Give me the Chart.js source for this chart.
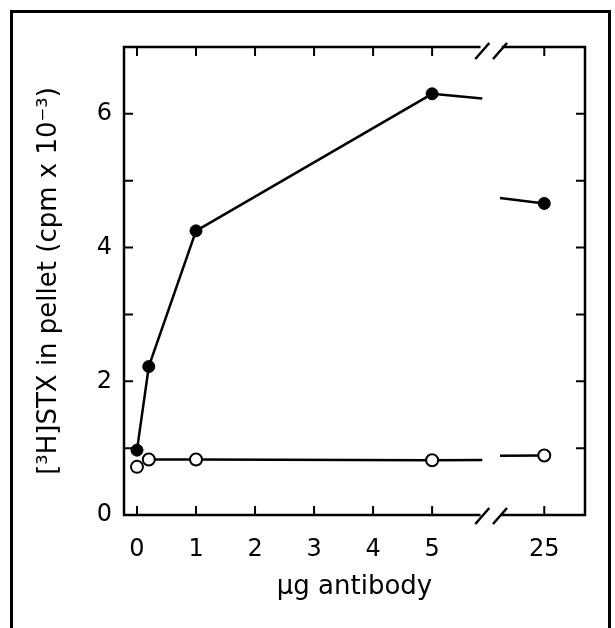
<!DOCTYPE html>
<html>
<head>
<meta charset="utf-8">
<script src="https://cdn.jsdelivr.net/npm/chart.js@4.4.1/dist/chart.umd.min.js"></script>
<style>
    html, body { margin: 0; padding: 0; background: #fff; overflow: hidden; }
    #wrap { position: relative; width: 615px; height: 628px; }
    #border { position: absolute; left: 10px; top: 10px; width: 595px; height: 640px;
              border: 3px solid #000; border-bottom: none; pointer-events: none; }
</style>
</head>
<body>
<div id="wrap">
    <canvas id="stxChart" width="615" height="628"></canvas>
    <div id="border"></div>
</div>
<script>
// Data
const doses = [0, 0.2, 1, 5, 25];                    // µg antibody
const boundCounts = [0.97, 2.22, 4.25, 6.30, 4.66];  // filled circles
const controlCounts = [0.72, 0.83, 0.83, 0.82, 0.89]; // open circles
const xTickValues = [0, 1, 2, 3, 4, 5, 25];
const yTickValues = [0, 2, 4, 6];

// Broken x axis: 0-5 linear, then a gap, then 25
const BREAK_LO = 5.85;   // dose where the left part stops
const BREAK_HI = 24;     // dose where the right part starts
const HIGH_POS = 6.9;    // axis position of dose 25
const HIGH_SCALE = 0.75;
const TICK = 9;

function axisPos(dose) {
    if (dose <= BREAK_LO) return dose;
    return HIGH_POS + (dose - 25) * HIGH_SCALE;
}

// Builds the points of one series; the segment crossing the break is cut
// into two short stubs, and points before linkFrom are left unconnected
function buildSeries(values, linkFrom) {
    const pts = [];
    for (let i = 0; i < doses.length; i++) {
        pts.push({ x: axisPos(doses[i]), y: values[i] });
        if (i + 1 >= doses.length) break;
        if (i + 1 <= linkFrom) {
            pts.push({ x: (axisPos(doses[i]) + axisPos(doses[i + 1])) / 2, y: null });
            continue;
        }
        if (doses[i] <= BREAK_LO && doses[i + 1] >= BREAK_HI) {
            const slope = (values[i + 1] - values[i]) / (doses[i + 1] - doses[i]);
            pts.push({ x: axisPos(BREAK_LO), y: values[i] + slope * (BREAK_LO - doses[i]), stub: true });
            pts.push({ x: (axisPos(BREAK_LO) + axisPos(BREAK_HI)) / 2, y: null });
            pts.push({ x: axisPos(BREAK_HI), y: values[i] + slope * (BREAK_HI - doses[i]), stub: true });
        }
    }
    return pts;
}

const markerRadius = ctx => (ctx.raw && ctx.raw.stub ? 0 : 6);

// Frame with inward ticks and the // break marks
const framePlugin = {
    id: 'frame',
    afterDatasetsDraw(chart) {
        const { ctx, chartArea: a, scales: { x, y } } = chart;
        const g0 = x.getPixelForValue(axisPos(BREAK_LO));
        const g1 = x.getPixelForValue(axisPos(BREAK_HI));
        ctx.save();
        ctx.strokeStyle = '#000';
        ctx.lineCap = 'square';
        ctx.lineWidth = 2.5;
        ctx.beginPath();
        ctx.moveTo(a.left, a.top); ctx.lineTo(a.left, a.bottom);
        ctx.moveTo(a.right, a.top); ctx.lineTo(a.right, a.bottom);
        [a.top, a.bottom].forEach(py => {
            ctx.moveTo(a.left, py); ctx.lineTo(g0 - 3, py);
            ctx.moveTo(g1 + 3, py); ctx.lineTo(a.right, py);
        });
        ctx.stroke();

        ctx.lineWidth = 2;
        ctx.lineCap = 'butt';
        ctx.beginPath();
        x.ticks.forEach(t => {
            const px = x.getPixelForValue(t.value);
            ctx.moveTo(px, a.bottom); ctx.lineTo(px, a.bottom - TICK);
            ctx.moveTo(px, a.top); ctx.lineTo(px, a.top + TICK);
        });
        y.ticks.forEach(t => {
            if (t.value <= y.min || t.value >= y.max) return;
            const py = y.getPixelForValue(t.value);
            ctx.moveTo(a.left, py); ctx.lineTo(a.left + TICK, py);
            ctx.moveTo(a.right, py); ctx.lineTo(a.right - TICK, py);
        });
        ctx.stroke();

        ctx.lineWidth = 2.5;
        ctx.beginPath();
        [[a.top, 4], [a.bottom, 1]].forEach(([py, off]) => {
            [g0, g1].forEach(px => {
                ctx.moveTo(px - 7, py + off + 8);
                ctx.lineTo(px + 7, py + off - 8);
            });
        });
        ctx.stroke();
        ctx.restore();
    }
};

document.addEventListener('DOMContentLoaded', function() {
    initChart();
});

function initChart() {
    const tickFont = { family: 'DejaVu Sans', size: 24 };
    const titleFont = { family: 'DejaVu Sans', size: 26 };
    const ctx = document.getElementById('stxChart').getContext('2d');
    window.stxChart = new Chart(ctx, {
        type: 'line',
        data: {
            datasets: [
                {
                    label: 'control',
                    data: buildSeries(controlCounts, 1),
                    borderColor: '#000',
                    borderWidth: 2.5,
                    pointBackgroundColor: '#fff',
                    pointBorderColor: '#000',
                    pointBorderWidth: 2,
                    pointRadius: markerRadius,
                    spanGaps: false
                },
                {
                    label: 'antibody',
                    data: buildSeries(boundCounts, 0),
                    borderColor: '#000',
                    borderWidth: 2.5,
                    pointBackgroundColor: '#000',
                    pointBorderColor: '#000',
                    pointBorderWidth: 1,
                    pointRadius: markerRadius,
                    spanGaps: false
                }
            ]
        },
        options: {
            responsive: false,
            animation: false,
            events: [],
            layout: { padding: { top: 47, right: 30, left: 0, bottom: 0 } },
            plugins: { legend: { display: false }, tooltip: { enabled: false } },
            scales: {
                x: {
                    type: 'linear',
                    min: -0.22,
                    max: 7.59,
                    afterFit: scale => { scale.height = 113; },
                    afterBuildTicks: scale => {
                        scale.ticks = xTickValues.map(v => ({ value: axisPos(v) }));
                    },
                    grid: { display: false, drawTicks: false },
                    border: { display: false },
                    ticks: {
                        padding: 20,
                        color: '#000',
                        font: tickFont,
                        maxRotation: 0,
                        callback: (value, i) => String(xTickValues[i])
                    },
                    title: {
                        display: true,
                        text: 'µg antibody',
                        color: '#000',
                        font: titleFont,
                        padding: { top: 0, bottom: 25 }
                    }
                },
                y: {
                    min: 0,
                    max: 7,
                    afterFit: scale => { scale.width = 124; },
                    grid: { display: false, drawTicks: false },
                    border: { display: false },
                    ticks: {
                        stepSize: 1,
                        padding: 12,
                        color: '#000',
                        font: tickFont,
                        callback: value => (yTickValues.includes(value) ? String(value) : '')
                    },
                    title: {
                        display: true,
                        text: '[³H]STX in pellet (cpm x 10⁻³)',
                        color: '#000',
                        font: titleFont,
                        padding: { top: 34, bottom: 0 }
                    }
                }
            }
        },
        plugins: [framePlugin]
    });
}
</script>
</body>
</html>
